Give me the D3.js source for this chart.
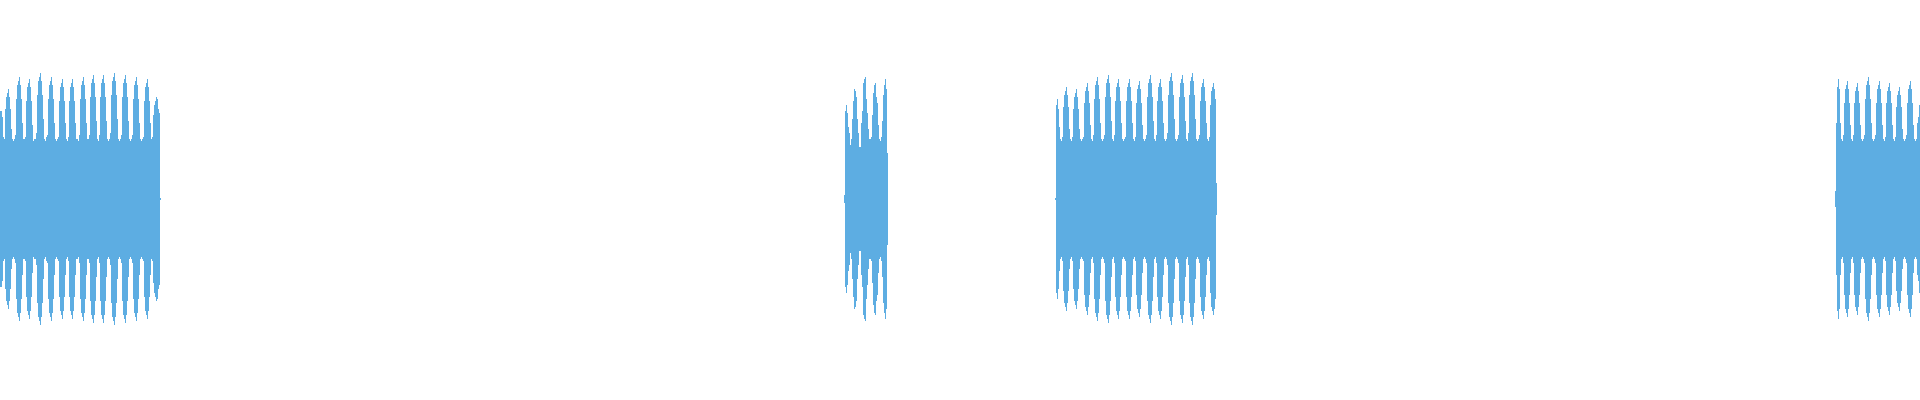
<!DOCTYPE html>
<html>
<head>
<meta charset="utf-8">
<script src="https://cdn.jsdelivr.net/npm/d3@7"></script>
<style>
  body { margin: 0; background: #fff; overflow: hidden; }
  #canvas { display: block; }
</style>
</head>
<body>
<svg id="canvas"></svg>
<script>
// waveform peaks, one value per pixel bin, in percent of full scale
const totalBins = 1920
const clipStarts = [0, 844, 1055, 1835]

const clipA = [44,44,41,31,30,45,51,53,55,51, 45,35,30,29,30,32,50,57,59,61,
  57,50,38,30,30,31,49,56,58,60, 56,49,37,29,30,30,33,52,59,61,
  63,59,52,40,30,29,31,32,50,57, 59,61,57,50,38,30,29,30,31,49,
  56,58,60,56,49,38,30,29,31,49, 56,58,60,56,49,38,30,30,29,32,
  50,57,59,61,57,50,38,30,30,32, 51,58,60,62,58,51,39,30,29,32,
  51,58,60,62,58,51,39,30,29,30, 33,52,59,61,63,59,52,40,30,29,
  30,32,51,58,60,62,58,51,39,30, 29,30,32,50,57,59,61,57,50,38,
  30,29,30,31,49,56,58,60,56,49, 38,30,31,42,47,49,51,50,45,43, 0.3]

const clipB = [2,44,47,43,36,33,27,30,40,49, 55,54,51,40,33,26,26,38,44,58,
  60,61,50,43,35,30,30,31,42,53, 57,58,51,48,37,30,29,31,39,52, 57,60,55,23]

const clipC = [0.3,47,50,45,36,30,29,31,46,52, 54,56,52,46,35,30,29,31,45,51,
  53,55,51,45,35,30,29,30,31,48, 54,56,58,54,48,37,30,29,32,50,
  57,59,61,57,50,38,30,29,30,32, 51,58,60,62,58,51,39,30,29,32,
  49,56,58,60,56,49,38,30,29,30, 31,49,56,58,60,56,49,38,30,29,
  31,48,55,57,59,55,48,37,30,29, 30,32,51,58,60,62,58,51,39,30,
  29,32,49,56,58,60,56,49,38,30, 29,30,33,52,59,61,63,59,52,40,
  30,29,30,32,51,58,60,62,58,51, 39,30,29,33,52,59,61,63,59,52,
  40,30,29,30,32,49,56,58,60,56, 49,38,30,29,31,47,54,56,58,55, 50,8]

const clipD = [4,38,56,60,55,38,30,29,32,48, 55,57,59,55,48,37,30,29,32,48,
  54,56,58,54,48,37,30,29,30,32, 50,57,59,61,57,50,38,30,29,30,
  32,48,55,57,59,55,48,37,30,29, 31,48,54,56,58,54,48,37,30,29,
  31,46,52,54,56,52,46,35,30,29, 30,32,48,55,57,59,55,48,37,30, 29,30,38,41,47]

const clips = [clipA, clipB, clipC, clipD]

const width = 1920
const height = 400
const canvas = d3.select('#canvas')

const drawCanvas = (height, width)=>{
    canvas.attr('width', width)
    canvas.attr('height', height)
    canvas.append('rect').attr('width', width).attr('height', height).attr('fill', '#fff')
}

const drawWave = ()=>{
    const xScale = d3.scaleLinear().domain([0, totalBins]).range([0, width])
    const yScale = d3.scaleLinear().domain([-100, 100]).range([399, -1])

    const bins = []
    clips.forEach((clip, i)=>{
        clip.forEach((v, j)=>{
            bins.push({bin: clipStarts[i] + j, peak: v})
        })
    })

    canvas.append('g')
        .attr('shape-rendering', 'crispEdges')
        .selectAll('rect')
        .data(bins)
        .enter()
        .append('rect')
        .attr('x', (d)=> xScale(d.bin))
        .attr('width', (d)=> xScale(d.bin + 1) - xScale(d.bin))
        .attr('y', (d)=> yScale(d.peak))
        .attr('height', (d)=> Math.max(1, yScale(-d.peak) - yScale(d.peak)))
        .attr('fill', '#5dade2')
}

drawCanvas(height, width)
drawWave()
</script>
</body>
</html>
